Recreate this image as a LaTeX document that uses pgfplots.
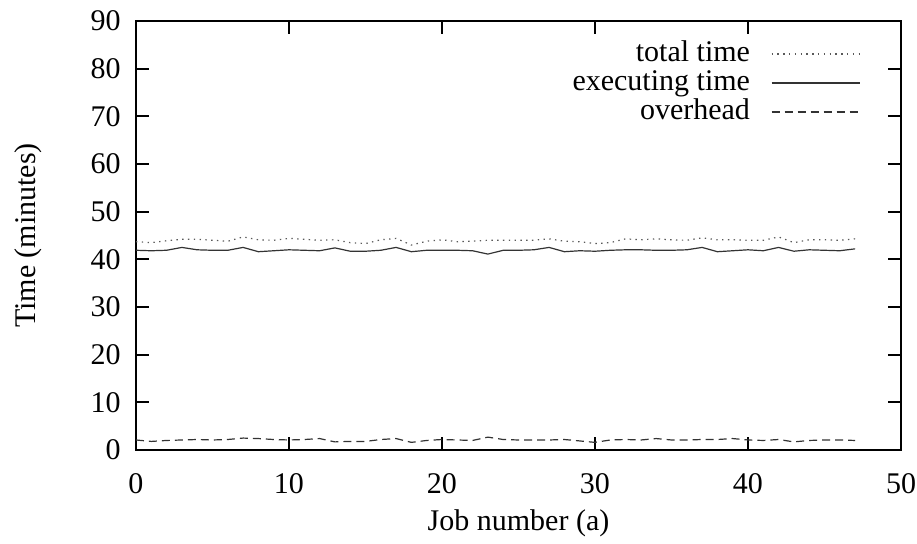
\documentclass[border=0pt]{standalone}
\usepackage{fontspec}
\setmainfont{Liberation Serif}
\usepackage{pgfplots}
\usepackage{pgfplotstable}
\pgfplotsset{compat=1.18}

% job, total time, executing time, overhead (minutes)
\pgfplotstableread{
job total exec over
0  43.7 41.9 2.1
1  43.5 41.8 1.8
2  43.9 41.9 2.0
3  44.2 42.5 2.1
4  44.2 42.0 2.2
5  44.0 41.9 2.1
6  43.8 41.9 2.2
7  44.7 42.5 2.5
8  44.1 41.6 2.4
9  44.0 41.8 2.2
10 44.4 42.0 2.1
11 44.2 41.9 2.2
12 44.0 41.8 2.4
13 44.1 42.4 1.7
14 43.5 41.7 1.8
15 43.3 41.7 1.8
16 44.1 41.9 2.2
17 44.4 42.5 2.4
18 43.0 41.6 1.6
19 43.8 41.9 2.0
20 44.1 41.9 2.2
21 43.7 41.9 2.1
22 43.8 41.8 2.0
23 44.0 41.1 2.7
24 44.0 41.9 2.2
25 44.0 41.9 2.1
26 44.0 42.0 2.1
27 44.3 42.5 2.1
28 43.8 41.6 2.2
29 43.7 41.8 1.9
30 43.3 41.7 1.6
31 43.5 41.9 2.1
32 44.3 42.0 2.2
33 44.1 42.0 2.1
34 44.3 41.9 2.4
35 44.1 41.9 2.1
36 44.0 42.0 2.1
37 44.5 42.5 2.2
38 44.1 41.6 2.2
39 44.1 41.8 2.4
40 44.0 42.0 2.1
41 44.0 41.8 2.0
42 44.7 42.5 2.2
43 43.5 41.7 1.7
44 44.1 42.0 2.0
45 44.1 41.9 2.1
46 44.0 41.8 2.1
47 44.3 42.2 2.0
}\jobs

\begin{document}
\begin{tikzpicture}[font=\fontsize{15}{17}\selectfont]
\begin{axis}[
  scale only axis, width=382.5pt, height=214.5pt,
  xmin=0, xmax=50, ymin=0, ymax=90,
  xtick distance=10, ytick distance=10,
  tick pos=both, tick align=inside,
  major tick length=6.5pt,
  axis line style={line width=1pt},
  every tick/.style={black, line width=1pt},
  /pgf/number format/assume math mode=true,
  yticklabel style={inner sep=0pt, xshift=-7.5pt},
  xticklabel style={inner sep=0pt, yshift=-11.5pt},
  xlabel={Job number (a)}, ylabel={Time (minutes)},
  x label style={at={(axis description cs:0.5,-0.17)}, anchor=center},
  y label style={at={(axis description cs:-0.141,0.5)}, anchor=center},
  legend plot pos=right, legend cell align=right,
  legend style={draw=none, fill=none, at={(axis description cs:0.955,0.967)}, anchor=north east,
    row sep=0pt, column sep=10pt,
    nodes={inner sep=0.5pt, text height=10.5pt, text depth=3pt}},
  legend image code/.code={\draw[#1] (0pt,0pt) -- (44pt,0pt);},
]
\addplot[black!65, line width=0.6pt, dash pattern=on 0.7pt off 2.2pt] table[x=job, y=total] {\jobs};
\addplot[black!80, line width=0.6pt] table[x=job, y=exec] {\jobs};
\addplot[black!80, line width=0.6pt, dash pattern=on 4pt off 2.5pt] table[x=job, y=over] {\jobs};
\legend{total time, executing time, overhead}
\end{axis}
\path (current axis.south west) ++(-68pt,-45.5pt);
\path (current axis.north east) ++(8pt,10.5pt);
\end{tikzpicture}
\end{document}
